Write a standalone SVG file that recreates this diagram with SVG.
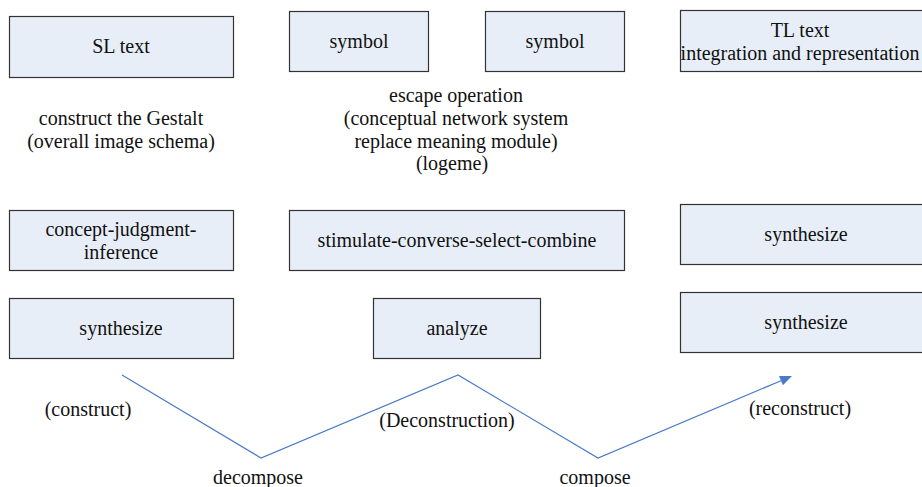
<svg xmlns="http://www.w3.org/2000/svg" width="922" height="487" viewBox="0 0 922 487">
<rect width="922" height="487" fill="#fff"/>
<g font-family="Liberation Serif" font-size="20" text-anchor="middle">
<g fill="#E8EEF8" stroke="#333" stroke-width="1.2">
<g id="n-sl"><rect x="9.5" y="16.5" width="224" height="61"/><text fill="#111" stroke="none" x="121" y="53">SL text</text></g>
<g id="n-sym1"><rect x="289.5" y="11.5" width="139" height="60"/><text fill="#111" stroke="none" x="359" y="48">symbol</text></g>
<g id="n-sym2"><rect x="485.5" y="11.5" width="139" height="60"/><text fill="#111" stroke="none" x="555" y="48">symbol</text></g>
<g id="n-tl"><rect x="680.5" y="10.5" width="250" height="61"/><text fill="#111" stroke="none" x="800" y="37">TL text</text><text fill="#111" stroke="none" x="800" y="60">integration and representation</text></g>
<g id="n-cji"><rect x="9.5" y="210.5" width="224" height="60"/><text fill="#111" stroke="none" x="121" y="236">concept-judgment-</text><text fill="#111" stroke="none" x="121" y="259">inference</text></g>
<g id="n-stim"><rect x="289.5" y="210.5" width="335" height="60"/><text fill="#111" stroke="none" x="457" y="247">stimulate-converse-select-combine</text></g>
<g id="n-syn1"><rect x="9.5" y="298.5" width="224" height="60"/><text fill="#111" stroke="none" x="121" y="335">synthesize</text></g>
<g id="n-ana"><rect x="373.5" y="298.5" width="167" height="60"/><text fill="#111" stroke="none" x="457" y="335">analyze</text></g>
<g id="n-syn2"><rect x="680.5" y="204.5" width="250" height="60"/><text fill="#111" stroke="none" x="806" y="241">synthesize</text></g>
<g id="n-syn3"><rect x="680.5" y="292.5" width="250" height="60"/><text fill="#111" stroke="none" x="806" y="329">synthesize</text></g>
</g>
<g id="labels" fill="#111">
<text x="121" y="125">construct the Gestalt</text>
<text x="121" y="148">(overall image schema)</text>
<text x="456" y="102">escape operation</text>
<text x="456" y="125">(conceptual network system</text>
<text x="456" y="148">replace meaning module)</text>
<text x="452" y="170">(logeme)</text>
<text x="88" y="416">(construct)</text>
<text x="447" y="427">(Deconstruction)</text>
<text x="800" y="415">(reconstruct)</text>
<text x="258" y="484">decompose</text>
<text x="595" y="484">compose</text>
</g>
</g>
<g id="connectors">
<polyline points="122,375 261,458 458,375 598,458 781,380.7" fill="none" stroke="#4A7BC8" stroke-width="1.2"/>
<polygon points="792,376 782.9,385.3 779,376.1" fill="#4A7BC8"/>
</g>
</svg>
